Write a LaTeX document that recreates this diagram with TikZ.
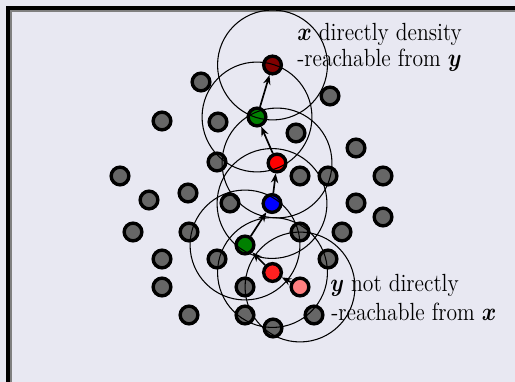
\documentclass[tikz,border=0pt]{standalone}
\usepackage{amsmath}
\usetikzlibrary{arrows.meta}

\definecolor{bgpanel}{RGB}{232,232,242}
\definecolor{dotgray}{RGB}{102,102,102}
\definecolor{darkred}{RGB}{128,0,0}
\definecolor{darkgreen}{RGB}{0,128,0}
\definecolor{brightred}{RGB}{255,32,32}
\definecolor{pinkred}{RGB}{255,128,128}

\tikzset{
  sample/.style={circle, draw=black, line width=1.6pt, minimum size=8.4pt, inner sep=0pt, fill=#1},
  sample/.default=dotgray,
  reach/.style={black, line width=0.5pt},
  hop/.style={-{Stealth[length=4.5pt,width=3.5pt]}, line width=0.8pt},
  lbl/.style={anchor=base west, inner sep=0pt, font=\fontsize{11.8}{14}\selectfont,
    xscale=0.87, transform shape}
}

\begin{document}
\begin{tikzpicture}[x=0.475pt, y=-0.475pt]

% Background and frame
\useasboundingbox (0,0) rectangle (515,382);
\fill[bgpanel] (-10,-10) rectangle (525,392);
\draw[gray, line width=0.5pt] (11,390) -- (11,11) -- (525,11);
\draw[black, line width=1.9pt] (8,390) -- (8,8) -- (525,8);

% Gray points
\foreach \px/\py [count=\i] in {201/82, 162/121, 218/122, 330/96, 296/133, 217/162,
    356/148, 120/176, 188/193, 149/200, 300/176, 328/176, 383/176, 230/203,
    356/203, 383/217, 133/232, 189/232, 300/232, 342/232, 162/259, 217/259,
    328/259, 162/287, 245/287, 189/315, 245/315, 314/315, 273/328}
  \node[sample] (g\i) at (\px,\py) {};

% Chain of points from y up to x
\node[sample=darkred] (xpt) at (272.5,65) {};
\node[sample=darkgreen] (c1) at (257,117) {};
\node[sample=red] (c2) at (277,163) {};
\node[sample=blue] (c3) at (272,203.5) {};
\node[sample=darkgreen] (c4) at (245,245) {};
\node[sample=brightred] (c5) at (272.5,272.5) {};
\node[sample=pinkred] (ypt) at (300,287) {};

% Arrows along the chain
\draw[hop] (ypt) -- (c5);
\draw[hop] (c5) -- (c4);
\draw[hop] (c4) -- (c3);
\draw[hop] (c3) -- (c2);
\draw[hop] (c2) -- (c1);
\draw[hop] (c1) -- (xpt);

% Neighbourhood circles
\foreach \n in {xpt,c1,c2,c3,c4,c5,ypt}
  \draw[reach] (\n) circle (26.1pt);

% Labels
\node[lbl] (top1) at (297,41) {$\boldsymbol{x}$ directly density};
\node[lbl] (top2) at (297,67) {-reachable from $\boldsymbol{y}$};
\node[lbl] (bot1) at (330,291) {$\boldsymbol{y}$ not directly};
\node[lbl] (bot2) at (331,320) {-reachable from $\boldsymbol{x}$};

\end{tikzpicture}
\end{document}
